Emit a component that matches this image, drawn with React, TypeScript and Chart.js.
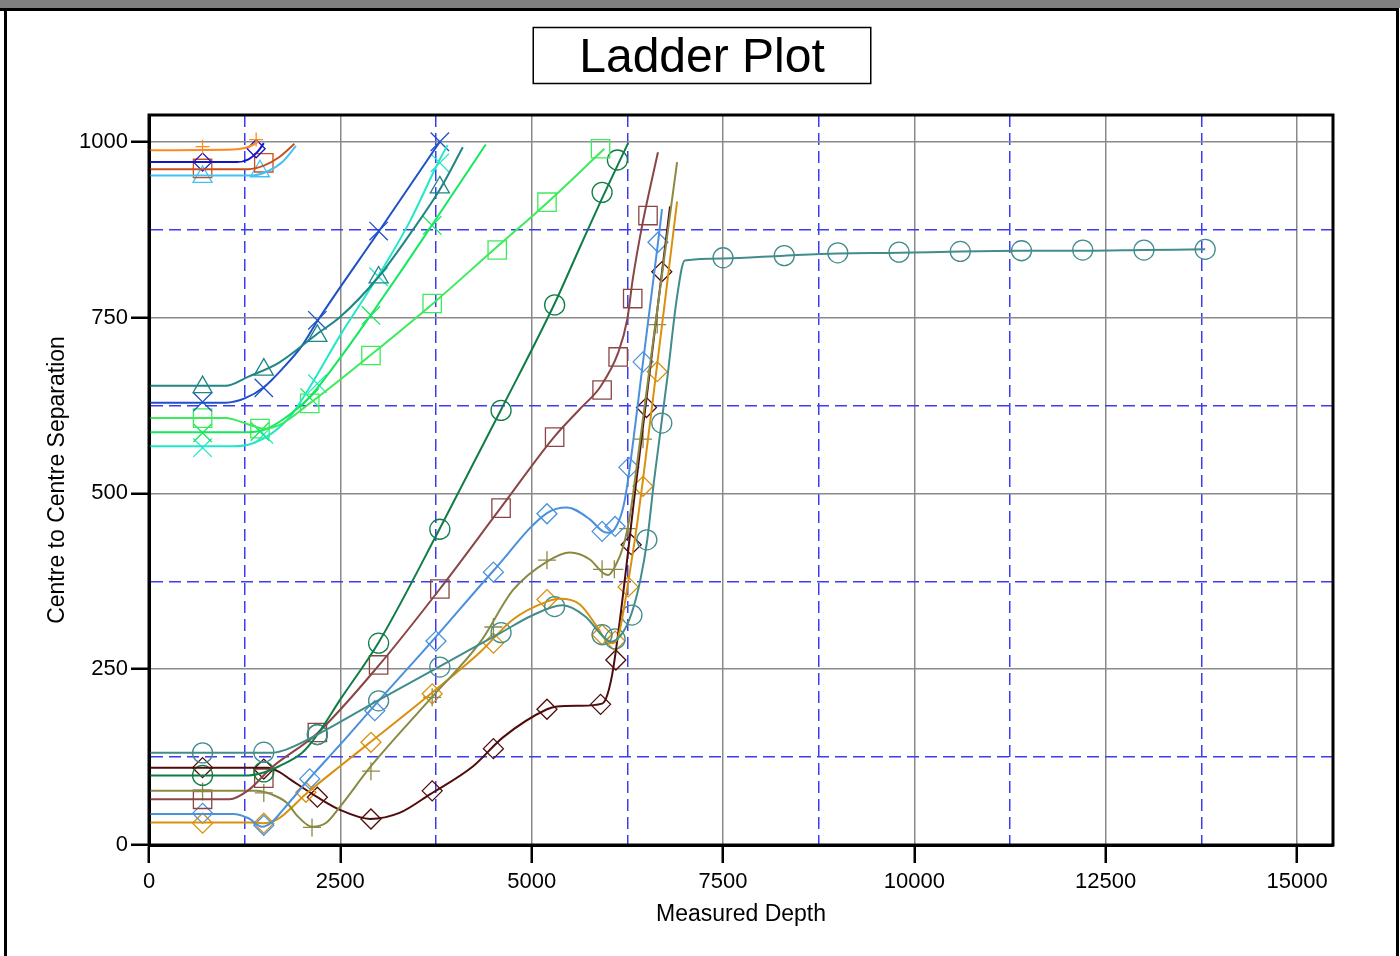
import React, { useEffect, useRef } from "react";
import { Chart, registerables } from "chart.js";

Chart.register(...registerables);

type Pt = [number, number];

// ---- axes / text ----
const X_MAX = 15470;
const Y_MAX = 1038;
const X_TICKS = [0, 1250, 2500, 3750, 5000, 6250, 7500, 8750, 10000, 11250, 12500, 13750, 15000];
const Y_TICKS = [0, 125, 250, 375, 500, 625, 750, 875, 1000];
const X_LABEL_STEP = 2500;
const Y_LABEL_STEP = 250;
const TITLE = "Ladder Plot";
const X_TITLE = "Measured Depth";
const Y_TITLE = "Centre to Centre Separation";

// ---- series: smoothed curves (line) and symbol positions (marks) ----
const orangeLine: Pt[] = [[0, 988], [1100, 989], [1250, 991], [1350, 995], [1430, 1000]];
const orangeMarks: Pt[] = [[700, 993], [1400, 1003]];

const navyLine: Pt[] = [[0, 971], [1150, 971], [1300, 975], [1420, 986], [1500, 998]];
const navyMarks: Pt[] = [[700, 971], [1400, 990]];

const rustLine: Pt[] = [[0, 961], [1300, 961], [1500, 966], [1700, 978], [1900, 997]];
const rustMarks: Pt[] = [[700, 962], [1500, 970]];

const skyLine: Pt[] = [[0, 952], [1350, 952], [1550, 958], [1750, 972], [1920, 994]];
const skyMarks: Pt[] = [[700, 950], [1450, 958]];

const tealTriLine: Pt[] = [[0, 653], [1000, 653], [1300, 666], [1700, 686], [2200, 727], [2500, 751], [3000, 808], [3450, 875], [3800, 932], [4100, 992]];
const tealTriMarks: Pt[] = [[700, 651], [1500, 676], [2200, 724], [3000, 807], [3800, 935]];

const blueXLine: Pt[] = [[0, 629], [1000, 629], [1250, 635], [1500, 651], [1750, 678], [2000, 710], [2200, 745], [3000, 872], [3800, 1000]];
const blueXMarks: Pt[] = [[700, 630], [1500, 650], [2200, 746], [3000, 873], [3800, 1000]];

const greenSqLine: Pt[] = [[0, 607], [1000, 607], [1300, 598], [1500, 592], [1700, 597], [2100, 628], [2900, 697], [3700, 769], [4500, 846], [5200, 913], [5950, 990]];
const greenSqMarks: Pt[] = [[700, 607], [1450, 592], [2100, 628], [2900, 696], [3700, 770], [4550, 846], [5200, 914], [5900, 990]];

const greenXLine: Pt[] = [[0, 587], [1300, 587], [1500, 590], [1750, 605], [2100, 637], [2500, 693], [2900, 754], [3300, 817], [3700, 882], [4400, 996]];
const greenXMarks: Pt[] = [[700, 586], [1450, 588], [2100, 636], [2900, 753], [3700, 881]];

const cyanLine: Pt[] = [[0, 567], [1100, 567], [1350, 571], [1600, 585], [1850, 610], [2100, 651], [2500, 725], [3000, 810], [3400, 885], [3800, 975], [3900, 995]];
const cyanMarks: Pt[] = [[700, 565], [1500, 584], [2200, 656], [3000, 808], [3800, 970]];

const tealLine: Pt[] = [[0, 131], [1600, 131], [1800, 136], [2200, 157], [3000, 206], [3800, 254], [4600, 302], [5000, 326], [5400, 341], [5700, 325], [5920, 298], [6030, 289], [6190, 302], [6310, 331], [6420, 377], [6510, 434], [6600, 519], [6770, 662], [6900, 780], [7000, 831], [7500, 834], [8300, 838], [9000, 841], [9800, 842], [10600, 844], [11400, 845], [12200, 845], [13000, 846], [13800, 847]];
const tealMarks: Pt[] = [[700, 131], [1500, 132], [2200, 157], [3000, 205], [3800, 253], [4600, 302], [5300, 339], [5920, 299], [6090, 293], [6310, 327], [6505, 434], [6700, 600], [7500, 835], [8300, 838], [9000, 842], [9800, 843], [10600, 844], [11400, 845], [12200, 846], [13000, 846], [13800, 847]];

const darkGreenLine: Pt[] = [[0, 99], [1300, 99], [1500, 103], [1700, 112], [2000, 131], [2200, 157], [2500, 207], [3000, 288], [3800, 450], [4600, 619], [5300, 770], [5630, 850], [5930, 922], [6260, 998]];
const darkGreenMarks: Pt[] = [[700, 99], [1500, 104], [2200, 157], [3000, 287], [3800, 449], [4600, 618], [5300, 768], [5920, 928], [6120, 974]];

const brownLine: Pt[] = [[0, 65], [1050, 65], [1300, 78], [1600, 110], [2200, 159], [3000, 255], [3800, 364], [4600, 480], [5300, 581], [5630, 620], [5900, 652], [6130, 700], [6250, 748], [6320, 804], [6440, 879], [6550, 936], [6650, 985]];
const brownMarks: Pt[] = [[700, 65], [1500, 95], [2200, 160], [3000, 256], [3800, 364], [4600, 479], [5300, 580], [5920, 647], [6130, 694], [6320, 777], [6520, 895]];

const blueDLine: Pt[] = [[0, 44], [1100, 44], [1300, 38], [1480, 26], [1600, 32], [1750, 50], [2100, 95], [2500, 143], [3000, 205], [3700, 290], [4500, 390], [5200, 472], [5460, 480], [5760, 463], [5930, 446], [6020, 444], [6120, 456], [6200, 482], [6260, 520], [6455, 687], [6651, 857], [6703, 904]];
const blueDMarks: Pt[] = [[700, 45], [1500, 28], [2100, 94], [2950, 191], [3750, 290], [4500, 388], [5200, 471], [5920, 446], [6090, 453], [6270, 537], [6455, 687], [6650, 857]];

const oliveLine: Pt[] = [[0, 77], [1400, 77], [1600, 72], [1800, 60], [1950, 40], [2130, 26], [2320, 32], [2500, 55], [2900, 112], [3670, 207], [4325, 288], [4760, 363], [5200, 403], [5500, 416], [5760, 406], [5930, 387], [6000, 384], [6090, 396], [6195, 424], [6290, 472], [6350, 520], [6640, 760], [6900, 971]];
const oliveMarks: Pt[] = [[700, 76], [1500, 74], [2130, 25], [2900, 105], [3700, 210], [4500, 310], [5200, 405], [5920, 392], [6080, 392], [6260, 450], [6455, 577], [6640, 740]];

const goldLine: Pt[] = [[0, 32], [1300, 32], [1490, 31], [1670, 36], [2065, 74], [2495, 112], [2890, 146], [3670, 214], [4325, 274], [4760, 321], [5200, 346], [5370, 350], [5630, 342], [5850, 311], [5985, 289], [6050, 287], [6130, 296], [6195, 330], [6260, 373], [6380, 458], [6455, 520], [6900, 915]];
const goldMarks: Pt[] = [[700, 31], [1500, 31], [2050, 75], [2900, 146], [3700, 215], [4500, 287], [5200, 349], [5920, 299], [6090, 290], [6260, 367], [6455, 510], [6640, 673]];

const maroonLine: Pt[] = [[0, 110], [1550, 110], [1700, 104], [1850, 93], [2200, 68], [2495, 50], [2890, 37], [3280, 46], [3670, 72], [4235, 112], [4625, 153], [5200, 193], [5330, 197], [5630, 198], [5920, 201], [5990, 214], [6070, 254], [6370, 520], [6808, 908]];
const maroonMarks: Pt[] = [[700, 110], [1500, 108], [2200, 68], [2900, 37], [3700, 77], [4500, 137], [5200, 193], [5900, 200], [6100, 263], [6300, 427], [6500, 622], [6700, 815]];

// ---- styles (kept apart from data) ----
type Series = { line: Pt[]; marks: Pt[]; color: string; marker: string; size: number };

const SERIES: Series[] = [
  { line: orangeLine, marks: orangeMarks, color: "#FF8A1E", marker: "cross", size: 7 },
  { line: navyLine, marks: navyMarks, color: "#1515C8", marker: "rectRot", size: 9 },
  { line: rustLine, marks: rustMarks, color: "#C9521C", marker: "rect", size: 13 },
  { line: skyLine, marks: skyMarks, color: "#45C2F5", marker: "triangle", size: 11 },
  { line: tealTriLine, marks: tealTriMarks, color: "#1F8585", marker: "triangle", size: 11 },
  { line: blueXLine, marks: blueXMarks, color: "#1E50C8", marker: "crossRot", size: 13 },
  { line: greenSqLine, marks: greenSqMarks, color: "#3CEB5A", marker: "rect", size: 13 },
  { line: greenXLine, marks: greenXMarks, color: "#14E85E", marker: "crossRot", size: 13 },
  { line: cyanLine, marks: cyanMarks, color: "#22E8C8", marker: "crossRot", size: 13 },
  { line: tealLine, marks: tealMarks, color: "#428C8C", marker: "circle", size: 10 },
  { line: darkGreenLine, marks: darkGreenMarks, color: "#0F7D45", marker: "circle", size: 10 },
  { line: brownLine, marks: brownMarks, color: "#8A4545", marker: "rect", size: 13 },
  { line: blueDLine, marks: blueDMarks, color: "#4A90DC", marker: "rectRot", size: 10 },
  { line: oliveLine, marks: oliveMarks, color: "#8A8A45", marker: "cross", size: 9 },
  { line: goldLine, marks: goldMarks, color: "#D9910D", marker: "rectRot", size: 10 },
  { line: maroonLine, marks: maroonMarks, color: "#500C0C", marker: "rectRot", size: 10 },
];

const FONT = "'Liberation Sans', Arial, Helvetica, sans-serif";
const GRID_GREY = "#8a8a8a";
const GRID_BLUE = "#3c3cf0";

const isMul = (v: number, step: number) => Math.abs(v / step - Math.round(v / step)) < 1e-6;

const framePlugin = {
  id: "ladderFrame",
  beforeDraw(chart: any) {
    const { ctx, width, height } = chart;
    ctx.save();
    ctx.fillStyle = "#ffffff";
    ctx.fillRect(0, 0, width, height);
    ctx.fillStyle = "#808080";
    ctx.fillRect(0, 0, width, 8);
    ctx.fillStyle = "#000000";
    ctx.fillRect(0, 8, width - 2, 3);
    ctx.fillRect(4, 8, 3, height - 8);
    ctx.fillRect(width - 4, 8, 3, height - 8);
    ctx.restore();
  },
  afterDraw(chart: any) {
    const { ctx, chartArea: a } = chart;
    ctx.save();
    ctx.strokeStyle = "#000000";
    ctx.lineWidth = 3;
    ctx.strokeRect(a.left, a.top, a.right - a.left, a.bottom - a.top);

    ctx.font = `48px ${FONT}`;
    const tw = ctx.measureText(TITLE).width;
    const bw = tw + 92;
    const cx = 702;
    ctx.lineWidth = 1.5;
    ctx.strokeRect(cx - bw / 2, 27.5, bw, 56);
    ctx.fillStyle = "#000000";
    ctx.textAlign = "center";
    ctx.textBaseline = "alphabetic";
    ctx.fillText(TITLE, cx, 72);
    ctx.restore();
  },
};

function axisOpts(tickValues: number[], labelStep: number, max: number) {
  return {
    type: "linear" as const,
    min: 0,
    max,
    afterBuildTicks: (scale: any) => {
      scale.ticks = tickValues.map((value) => ({ value }));
    },
    ticks: {
      autoSkip: false,
      maxRotation: 0,
      minRotation: 0,
      color: "#000",
      font: { family: FONT, size: 22 },
      callback: (v: any) => (isMul(Number(v), labelStep) ? String(v) : ""),
    },
    grid: {
      color: (c: any) => (c.tick && !isMul(c.tick.value, labelStep) ? GRID_BLUE : GRID_GREY),
      lineWidth: 1.5,
      tickColor: (c: any) => (c.tick && isMul(c.tick.value, labelStep) ? "#000" : "rgba(0,0,0,0)"),
      tickLength: 18,
      tickWidth: 2.5,
      drawTicks: true,
    },
    border: {
      display: true,
      color: "#000",
      width: 3,
      dash: (c: any) => (c.tick && !isMul(c.tick.value, labelStep) ? [12, 6] : []),
    },
  };
}

export default function App() {
  const ref = useRef<HTMLCanvasElement | null>(null);

  useEffect(() => {
    const canvas = ref.current;
    if (!canvas) return;
    const datasets: any[] = [];
    SERIES.forEach((s) => {
      datasets.push({
        type: "scatter",
        data: s.line.map(([x, y]) => ({ x, y })),
        showLine: true,
        borderColor: s.color,
        backgroundColor: s.color,
        borderWidth: 2,
        pointRadius: 0,
        pointHoverRadius: 0,
        cubicInterpolationMode: "monotone",
        fill: false,
      });
    });
    SERIES.forEach((s) => {
      datasets.push({
        type: "scatter",
        data: s.marks.map(([x, y]) => ({ x, y })),
        showLine: false,
        pointStyle: s.marker,
        pointRadius: s.size,
        pointHoverRadius: s.size,
        pointBorderColor: s.color,
        borderColor: s.color,
        pointBackgroundColor: "rgba(0,0,0,0)",
        backgroundColor: "rgba(0,0,0,0)",
        pointBorderWidth: 1.3,
      });
    });

    const xAxis: any = axisOpts(X_TICKS, X_LABEL_STEP, X_MAX);
    xAxis.ticks.padding = 6;
    xAxis.title = {
      display: true,
      text: X_TITLE,
      color: "#000",
      font: { family: FONT, size: 23 },
      padding: { top: 0, bottom: 28 },
    };
    xAxis.afterFit = (s: any) => {
      s.height = 111;
    };

    const yAxis: any = axisOpts(Y_TICKS, Y_LABEL_STEP, Y_MAX);
    yAxis.ticks.padding = 3;
    yAxis.title = {
      display: true,
      text: Y_TITLE,
      color: "#000",
      font: { family: FONT, size: 23 },
      padding: { top: 44, bottom: 0 },
    };
    yAxis.afterFit = (s: any) => {
      s.width = 149;
    };

    const chart = new Chart(canvas, {
      type: "scatter",
      data: { datasets },
      options: {
        responsive: false,
        animation: false,
        layout: { padding: { left: 0, right: 67, top: 115, bottom: 0 } },
        plugins: {
          legend: { display: false },
          tooltip: { enabled: false },
          title: { display: false },
        },
        scales: { x: xAxis, y: yAxis },
      },
      plugins: [framePlugin],
    });
    return () => chart.destroy();
  }, []);

  return (
    <div style={{ position: "absolute", left: 0, top: 0, width: 1400, height: 956 }}>
      <canvas ref={ref} width={1400} height={956} style={{ display: "block" }} />
    </div>
  );
}
